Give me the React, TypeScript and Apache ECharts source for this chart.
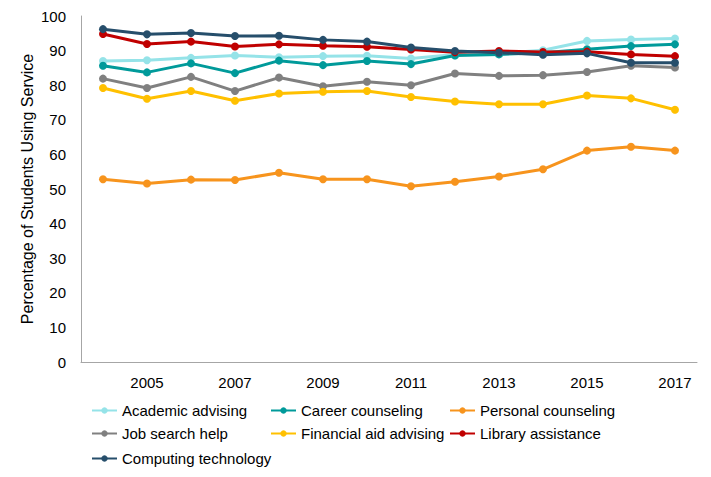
import React, { useEffect, useRef } from "react";
import * as echarts from "echarts";

const years = ["2004","2005","2006","2007","2008","2009","2010","2011","2012","2013","2014","2015","2016","2017"];

const academicAdvising = [87.0, 87.2, 87.9, 88.6, 88.1, 88.4, 88.5, 87.7, 88.9, 89.2, 90.1, 92.8, 93.2, 93.5];
const careerCounseling = [85.6, 83.7, 86.3, 83.5, 87.1, 85.8, 87.0, 86.1, 88.6, 88.9, 89.4, 90.4, 91.3, 91.8];
const personalCounseling = [52.8, 51.6, 52.7, 52.6, 54.7, 52.8, 52.8, 50.8, 52.1, 53.6, 55.7, 61.1, 62.2, 61.1];
const jobSearchHelp = [81.9, 79.2, 82.4, 78.3, 82.2, 79.7, 81.0, 80.0, 83.4, 82.7, 82.9, 83.8, 85.6, 85.1];
const financialAidAdvising = [79.2, 76.1, 78.3, 75.5, 77.6, 78.1, 78.3, 76.6, 75.3, 74.5, 74.5, 77.0, 76.2, 72.9];
const libraryAssistance = [94.8, 91.9, 92.6, 91.2, 91.8, 91.4, 91.1, 90.3, 89.5, 89.9, 89.6, 89.7, 88.9, 88.4];
const computingTechnology = [96.2, 94.7, 95.1, 94.2, 94.3, 93.1, 92.6, 90.9, 89.9, 89.4, 88.8, 89.2, 86.5, 86.5];

const seriesDefs = [
  { name: "Academic advising", data: academicAdvising, color: "#95E3E8" },
  { name: "Career counseling", data: careerCounseling, color: "#009A9A" },
  { name: "Personal counseling", data: personalCounseling, color: "#F7941D" },
  { name: "Job search help", data: jobSearchHelp, color: "#808080" },
  { name: "Financial aid advising", data: financialAidAdvising, color: "#FFC000" },
  { name: "Library assistance", data: libraryAssistance, color: "#C00000" },
  { name: "Computing technology", data: computingTechnology, color: "#264E6B" },
];

const legendPos = [
  [91, 403], [270, 403], [449, 403],
  [91, 426], [270, 426], [449, 426],
  [91, 451],
];

export default function App() {
  const ref = useRef<HTMLDivElement>(null);
  useEffect(() => {
    if (!ref.current) return;
    document.body.style.margin = "0";
    const chart = echarts.init(ref.current, null, { renderer: "svg" });
    const font = "Liberation Sans, Arial, sans-serif";
    chart.setOption({
      animation: false,
      color: seriesDefs.map((s) => s.color),
      grid: { left: 81, right: 14, top: 16, bottom: 115 },
      legend: seriesDefs.map((s, i) => ({
        data: [s.name],
        left: legendPos[i][0],
        top: legendPos[i][1],
        padding: 0,
        itemWidth: 25,
        itemHeight: 8,
        textStyle: { fontFamily: font, fontSize: 15, color: "#000" },
      })),
      xAxis: {
        type: "category",
        data: years,
        boundaryGap: true,
        axisLine: { lineStyle: { color: "#A6A6A6", width: 1 } },
        axisTick: { show: false },
        axisLabel: {
          interval: (i: number) => i % 2 === 1,
          color: "#000",
          fontFamily: font,
          fontSize: 15,
          margin: 13,
        },
      },
      yAxis: {
        type: "value",
        min: 0,
        max: 100,
        interval: 10,
        name: "Percentage of Students Using Service",
        nameLocation: "middle",
        nameGap: 46,
        nameMoveOverlap: false,
        nameTextStyle: { fontFamily: font, fontSize: 16, color: "#000" },
        axisLine: { show: true, lineStyle: { color: "#A6A6A6", width: 1 } },
        axisTick: { show: false },
        splitLine: { show: false },
        axisLabel: { color: "#000", fontFamily: font, fontSize: 15, margin: 15 },
      },
      series: seriesDefs.map((s) => ({
        name: s.name,
        type: "line",
        data: s.data,
        symbol: "circle",
        symbolSize: 8,
        lineStyle: { width: 3, color: s.color },
        itemStyle: { color: s.color },
      })),
    });
    return () => chart.dispose();
  }, []);
  return <div ref={ref} style={{ width: 711, height: 477 }} />;
}
